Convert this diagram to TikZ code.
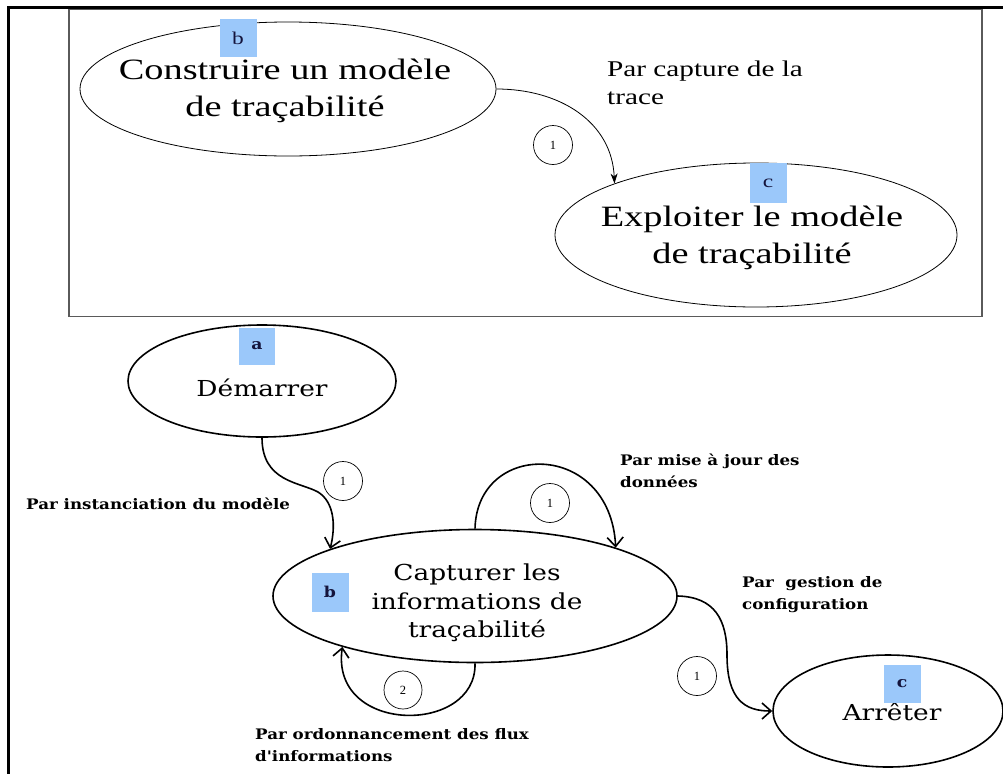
\documentclass[tikz,border=0pt]{standalone}
\usepackage{fontspec}
\setmainfont{Liberation Serif}
\newfontfamily\topfont[FakeStretch=1.3]{Liberation Serif}
\newfontfamily\botfont[FakeStretch=1.2]{DejaVu Serif}
\newfontfamily\lblfont[FakeStretch=1.15]{DejaVu Serif}
\usetikzlibrary{shapes.geometric,arrows.meta}
\definecolor{tagblue}{RGB}{155,200,250}
\definecolor{framegray}{RGB}{90,90,90}
\definecolor{tagink}{RGB}{20,20,60}
\begin{document}
\begin{tikzpicture}[x=1pt,y=-1pt,
 topell/.style={ellipse,draw,line width=0.8pt,inner sep=0pt},
 botell/.style={ellipse,draw,line width=1.6pt,inner sep=0pt},
 toptext/.style={align=center,inner sep=0pt,font=\topfont\fontsize{29.5}{37}\selectfont},
 bottext/.style={align=center,inner sep=0pt,font=\botfont\fontsize{22}{28.5}\selectfont},
 tag/.style={fill=tagblue,minimum width=37pt,minimum height=38pt,inner sep=0pt,text=tagink},
 toptag/.style={tag,font=\topfont\fontsize{18}{18}\selectfont},
 bottag/.style={tag,font=\lblfont\bfseries\fontsize{15}{15}\selectfont},
 numc/.style={circle,draw,line width=0.7pt,minimum size=39pt,inner sep=0pt,font=\fontsize{12.5}{12.5}\selectfont},
 toplbl/.style={anchor=west,align=left,inner sep=0pt,font=\topfont\fontsize{22.5}{28}\selectfont},
 botlbl/.style={anchor=west,align=left,inner sep=0pt,font=\lblfont\bfseries\fontsize{14.5}{22}\selectfont},
 topedge/.style={line width=0.8pt,-{Stealth[length=10pt,width=7pt]}},
 botedge/.style={line width=1.6pt,-{Straight Barb[length=9pt,width=16pt]}},
 outerline/.style={line width=3pt},
 innerframe/.style={draw=framegray,line width=1.5pt}
]
\useasboundingbox (0,0) rectangle (1003,774);
\fill[white] (0,0) rectangle (1003,774);
\clip (0,0) rectangle (1003,774);

% frames
\coordinate (ftl) at (8,7);
\coordinate (ftr) at (1003,7);
\coordinate (fbl) at (8,774);
\draw[outerline] (ftr) -- (ftl) -- (fbl);
\node[innerframe,minimum width=913pt,minimum height=307pt,inner sep=0pt] (inner) at (525.5,163) {};

% top part
\node[topell,minimum width=416pt,minimum height=134pt] (c1) at (288,89) {};
\node[toptext] (c1t) at (285,91) {Construire un modèle\\de traçabilité};
\node[toptag] (tb1) at (238,38) {b};

\node[topell,minimum width=402pt,minimum height=144pt] (c2) at (756,235) {};
\node[toptext] (c2t) at (752,238) {Exploiter le modèle\\de traçabilité};
\node[toptag,minimum height=40pt] (tc1) at (768,183) {c};

\draw[topedge] (c1.east) .. controls (560,89) and (612,122) .. (c2.160);
\node[numc] (n0) at (553,145) {1};
\node[toplbl] (l0) at (607,83) {Par capture de la\\trace};

% bottom part
\node[botell,minimum width=268pt,minimum height=112pt] (dem) at (262,381) {};
\node[bottext] (demt) at (262,388) {Démarrer};
\node[bottag,minimum width=36pt,minimum height=37pt] (ta) at (257,346) {a};

\node[botell,minimum width=404pt,minimum height=133pt] (cap) at (475,596) {};
\node[bottext] (capt) at (477,603) {Capturer les\\informations de\\traçabilité};
\node[bottag,minimum height=39pt] (tb2) at (330,592) {b};

\node[botell,minimum width=230pt,minimum height=112pt] (arr) at (888,711) {};
\node[bottext] (arrt) at (892,712) {Arrêter};
\node[bottag] (tc2) at (902,684) {c};

\draw[botedge] (dem.south) .. controls (262,482) and (300,482) .. (318,492) .. controls (334,502) and (336,525) .. (cap.162);
\node[numc] (n1) at (343,481) {1};
\node[botlbl] (l1) at (26,504) {Par instanciation du modèle};

\draw[botedge] (cap.north) .. controls (477,440) and (610,440) .. (cap.19);
\node[numc] (n2) at (550,503) {1};
\node[botlbl] (l2) at (620,471) {Par mise à jour des\\données};

\draw[botedge] (cap.south) .. controls (477,735) and (330,735) .. (cap.-159);
\node[numc,minimum size=38pt] (n3) at (403,690) {2};
\node[botlbl] (l3) at (255,745) {Par ordonnancement des flux\\d'informations};

\draw[botedge] (cap.east) .. controls (715,597) and (727,620) .. (727,655) .. controls (727,700) and (745,711) .. (arr.west);
\node[numc] (n4) at (697,676) {1};
\node[botlbl] (l4) at (742,595) {Par\ \ gestion de\\configuration};
\end{tikzpicture}
\end{document}
